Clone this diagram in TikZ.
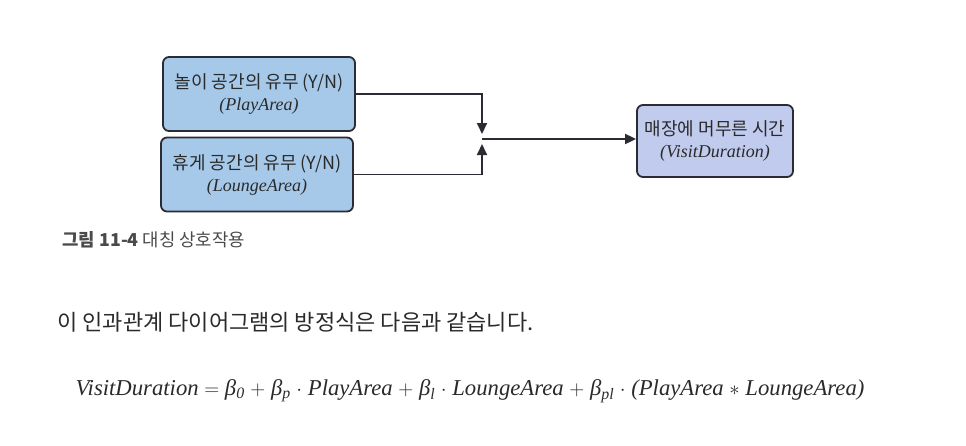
\documentclass[tikz,border=0pt]{standalone}
\usepackage{fontspec}
\setmainfont{Liberation Serif}
\newfontfamily\kr{Noto Sans CJK KR}
\usetikzlibrary{arrows.meta,positioning}
\definecolor{varblue}{HTML}{A6C9EA}
\definecolor{outlav}{HTML}{C0CBEE}
\definecolor{edge}{HTML}{2B2B33}
\definecolor{ink}{HTML}{2A2A2A}

\begin{document}
\begin{tikzpicture}[x=1pt, y=-1pt,
        var/.style={rectangle, rounded corners=6pt, draw=edge, line width=1.8pt, fill=varblue, minimum width=192pt, minimum height=74pt, align=center, text=ink, font=\fontsize{18}{22}\selectfont},
        outcome/.style={var, fill=outlav, minimum width=156pt, minimum height=72pt},
        link/.style={draw=edge, line width=1.8pt, -{Triangle[length=11pt,width=10pt]}}]

    \useasboundingbox (0,0) rectangle (966,445);

    \node[var] (play) at (259,94) {{\kr 놀이 공간의 유무 (Y/N)}\\\textit{(PlayArea)}};
    \node[var] (lounge) at (257,174.5) {{\kr 휴게 공간의 유무 (Y/N)}\\\textit{(LoungeArea)}};
    \node[outcome] (visit) at (715,141) {{\kr 매장에 머무른 시간}\\\textit{(VisitDuration)}};

    \coordinate (join) at (482,139);
    \coordinate (jtop) at (482,134);
    \coordinate (jbot) at (482,144);

    \draw[link] (play.east) -| (jtop);
    \draw[link] (lounge.east) -| (jbot);
    \draw[link] (join) -- (join -| visit.west);

    \node[anchor=west, text=ink!85, font=\kr\fontsize{17.8}{20}\selectfont] (caption) at (59,240) {{\bfseries 그림 11-4} 대칭 상호작용};
    \node[anchor=west, text=ink, font=\kr\fontsize{22}{26}\selectfont] (sentence) at (54,322) {이 인과관계 다이어그램의 방정식은 다음과 같습니다.};
    \node[anchor=west, text=ink, font=\fontsize{22.7}{26}\selectfont\itshape] (equation) at (72,391)
        {VisitDuration $=$ β\textsubscript{0} $+$ β\textsubscript{p} $\cdot$ PlayArea $+$ β\textsubscript{l} $\cdot$ LoungeArea $+$ β\textsubscript{pl} $\cdot$ (PlayArea $\ast$ LoungeArea)};
\end{tikzpicture}
\end{document}
